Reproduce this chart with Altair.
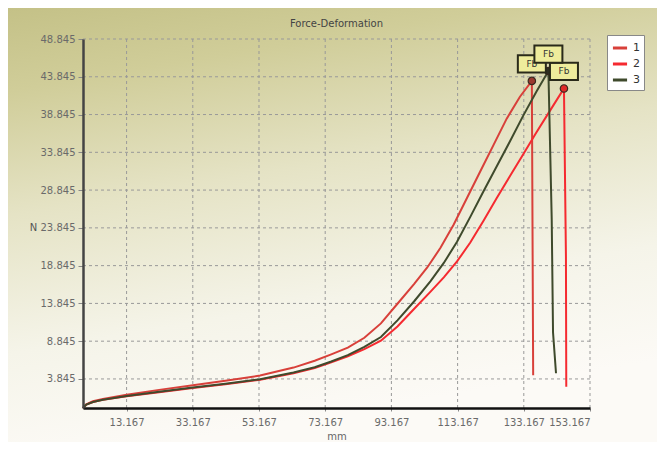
import altair as alt
import pandas as pd

# ---- data ----
series_names = ["1", "2", "3"]
series_colors = ["#d8403a", "#f52a30", "#3f4a2c"]

c1_x = [0, 1, 3, 6, 13.2, 23, 33.2, 43, 53.5, 63.6, 70, 75, 80, 85, 90, 95, 100, 104, 108, 112, 116, 120, 124, 128, 132, 135.6, 136.0]
c1_y = [0, 0.5, 0.9, 1.2, 1.75, 2.4, 3.0, 3.6, 4.3, 5.35, 6.25, 7.1, 8.0, 9.3, 11.2, 13.8, 16.4, 18.6, 21.2, 24.3, 27.8, 31.3, 34.8, 38.3, 41.2, 43.3, 4.35]

c2_x = [0, 1, 3, 6, 13.2, 23, 33.2, 43, 53.5, 63.6, 70, 75, 80, 85, 90, 95, 100, 105, 109, 113, 117, 121, 125, 129, 133, 137, 141, 145.3, 145.9, 146.0]
c2_y = [0, 0.45, 0.8, 1.1, 1.55, 2.1, 2.65, 3.15, 3.75, 4.6, 5.3, 6.05, 6.85, 7.8, 8.9, 10.8, 13.1, 15.4, 17.3, 19.4, 21.9, 24.8, 27.8, 30.7, 33.6, 36.5, 39.3, 42.3, 20, 2.8]

c3_x = [0, 1, 3, 6, 13.2, 23, 33.2, 43, 53.5, 63.6, 70, 75, 80, 85, 90, 95, 100, 105, 109, 113, 117, 121, 125, 129, 133, 137, 140.6, 141.6, 142.0, 142.9]
c3_y = [0, 0.45, 0.8, 1.1, 1.6, 2.15, 2.7, 3.2, 3.8, 4.7, 5.4, 6.15, 7.0, 8.1, 9.4, 11.6, 14.1, 16.8, 19.2, 22.0, 25.3, 28.7, 32.0, 35.3, 38.7, 41.9, 44.6, 25, 10, 4.6]

peak_x = [135.6, 145.3, 140.6]
peak_y = [43.3, 42.3, 44.6]
peak_label = ["Fb", "Fb", "Fb"]
peak_fill = ["#9a3a30", "#e02a2a", "#2e2e22"]

x_ticks = [13.167, 33.167, 53.167, 73.167, 93.167, 113.167, 133.167, 153.167]
y_ticks = [3.845, 8.845, 13.845, 18.845, 23.845, 28.845, 33.845, 38.845, 43.845, 48.845]
x_domain = [0, 153.167]
y_domain = [0, 48.845]

# ---- tables ----
rows = []
for name, xs_, ys_ in zip(series_names, [c1_x, c2_x, c3_x], [c1_y, c2_y, c3_y]):
    for i, (a, b) in enumerate(zip(xs_, ys_)):
        rows.append({"s": name, "x": a, "y": b, "i": i})
curves = pd.DataFrame(rows)
peaks = pd.DataFrame({"s": series_names, "x": peak_x, "y": peak_y,
                      "lab": peak_label, "fill": peak_fill})
gx = pd.DataFrame({"x": x_ticks})
gy = pd.DataFrame({"y": y_ticks})

W, H = 507, 369
FONT = "DejaVu Sans"

xs = alt.Scale(domain=x_domain, nice=False, zero=False)
ys = alt.Scale(domain=y_domain, nice=False, zero=False)

xaxis = alt.Axis(values=x_ticks, format=".3f", grid=False, title="mm",
                 labelFont=FONT, labelFontSize=10, labelColor="#6a6a6a",
                 titleFont=FONT, titleFontSize=10, titleColor="#666", titleFontWeight="normal",
                 domainColor="#111", domainWidth=2.5, tickColor="#888", tickSize=3,
                 labelPadding=6, titlePadding=4, zindex=1)
yaxis = alt.Axis(values=y_ticks, format=".3f", grid=False, title="N",
                 labelFont=FONT, labelFontSize=10, labelColor="#6a6a6a",
                 titleFont=FONT, titleFontSize=10, titleColor="#555", titleFontWeight="normal",
                 titleAngle=0, titleX=-50, titleY=188, titleAlign="center", titleBaseline="middle",
                 domainColor="#444", domainWidth=2.5, tickColor="#888", tickSize=5,
                 labelPadding=3, zindex=1)

X = alt.X("x:Q", scale=xs, axis=xaxis)
Y = alt.Y("y:Q", scale=ys, axis=yaxis)

grad = alt.LinearGradient(
    gradient="linear",
    stops=[alt.GradientStop(color="#c4c187", offset=0),
           alt.GradientStop(color="#d0cd99", offset=0.18),
           alt.GradientStop(color="#e5e3c5", offset=0.45),
           alt.GradientStop(color="#f5f4e9", offset=0.75),
           alt.GradientStop(color="#fcfaf6", offset=1)],
    x1=0, y1=0, x2=0.25, y2=1)

bg = alt.Chart(pd.DataFrame({"a": [0]})).mark_rect(fill=grad).encode(
    x=alt.value(-75), x2=alt.value(W + 67), y=alt.value(-31), y2=alt.value(H + 34))

grid_x = alt.Chart(gx).mark_rule(color="#999", strokeDash=[3, 3], strokeWidth=1).encode(x=X)
grid_y = alt.Chart(gy).mark_rule(color="#999", strokeDash=[3, 3], strokeWidth=1).encode(y=Y)

lines = alt.Chart(curves).mark_line(strokeWidth=2).encode(
    x=X, y=Y, order="i:Q",
    color=alt.Color("s:N", scale=alt.Scale(domain=series_names, range=series_colors),
                    legend=alt.Legend(title=None, orient="none", legendX=524, legendY=-4,
                                      symbolType="stroke", symbolStrokeWidth=3, symbolSize=200,
                                      labelFont=FONT, labelFontSize=11, labelColor="#333",
                                      fillColor="#ffffff", strokeColor="#888", padding=4,
                                      rowPadding=1, cornerRadius=0, zindex=1)))

markers = alt.Chart(peaks).mark_point(filled=True, size=55, stroke="#3a2a20", strokeWidth=1.2,
                                      opacity=1).encode(
    x=X, y=Y, fill=alt.Fill("fill:N", scale=None))

box_path = "M-1,-0.62L1,-0.62L1,0.62L-1,0.62Z"
layers = [bg, grid_x, grid_y, lines, markers]
for name in ["1", "2", "3"]:
    base = alt.Chart(peaks).transform_filter(alt.datum.s == name)
    box = base.mark_point(shape=box_path, size=784, filled=True, fill="#eeec9c",
                          stroke="#2a2a1a", strokeWidth=2, opacity=1, yOffset=-17).encode(
        x=X, y=Y)
    txt = base.mark_text(font=FONT, fontSize=9, color="#333", yOffset=-17,
                         align="center", baseline="middle").encode(
        x=X, y=Y, text="lab:N")
    layers += [box, txt]

chart = alt.layer(*layers).properties(
    width=W, height=H,
    title=alt.TitleParams("Force-Deformation", font=FONT, fontSize=10, color="#444",
                          fontWeight="normal", offset=8, dy=29, frame="group", anchor="middle",
                          zindex=1),
    padding={"left": 75, "top": 31, "right": 67, "bottom": 34},
    autosize=alt.AutoSizeParams(type="none"),
    background="#ffffff",
).configure_view(stroke=None)

chart.save("out.html", embed_options={"renderer": "svg", "actions": False})
